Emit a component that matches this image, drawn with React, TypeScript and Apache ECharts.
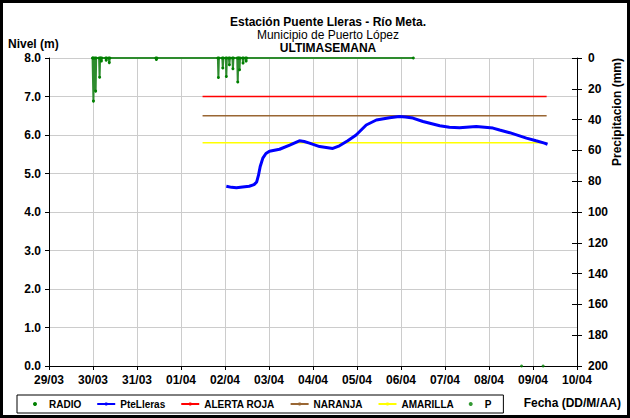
import React, { useEffect, useRef } from "react";
import * as echarts from "echarts";

// X axis: days since 29/03 00:00
const dayLabels = [
  "29/03", "30/03", "31/03", "01/04", "02/04", "03/04", "04/04",
  "05/04", "06/04", "07/04", "08/04", "09/04", "10/04",
];

// Nivel PteLleras (m): [day offset, level]
const pteLleras: [number, number][] = [
  [4.03, 4.67], [4.15, 4.64], [4.26, 4.63], [4.4, 4.65], [4.55, 4.67],
  [4.66, 4.71], [4.72, 4.78], [4.76, 4.95], [4.8, 5.18], [4.86, 5.4],
  [4.93, 5.52], [5.01, 5.58], [5.24, 5.63], [5.47, 5.74], [5.69, 5.85],
  [5.8, 5.83], [5.92, 5.79], [6.15, 5.7], [6.45, 5.65], [6.6, 5.72],
  [6.79, 5.85], [6.98, 6.0], [7.21, 6.26], [7.44, 6.39], [7.74, 6.45],
  [7.96, 6.48], [8.1, 6.47], [8.27, 6.44], [8.5, 6.35], [8.88, 6.24],
  [9.1, 6.2], [9.33, 6.19], [9.71, 6.22], [10.09, 6.18], [10.24, 6.13],
  [10.47, 6.06], [10.85, 5.92], [11.07, 5.85], [11.26, 5.79], [11.33, 5.76],
];

// RADIO precipitation (mm) events
const rainDays = [1.01, 1.06, 1.15, 1.19, 1.3, 1.37, 2.44, 3.85, 3.95, 4.03, 4.1, 4.18, 4.29, 4.33, 4.41, 4.48];
const rainMm = [28, 21.5, 12.5, 2, 1.5, 3, 1, 12.7, 6.5, 12, 4.4, 7, 15.6, 7.6, 3.3, 2];
const radioStartDay = 0.99;
const radioEndDay = 8.28;

// P series
const pDays = [10.74, 11.23];
const pValues = [0, 0];

// Threshold levels
const thresholdNames = ["ALERTA ROJA", "NARANJA", "AMARILLA"];
const thresholdLevels = [7.0, 6.5, 5.8];
const thresholdColors = ["#ff0000", "#996633", "#ffff00"];
const thresholdStartDay = 3.49;
const thresholdEndDay = 11.31;

const FONT = "'Liberation Sans', Arial, Helvetica, sans-serif";

export default function App() {
  const ref = useRef<HTMLDivElement>(null);

  useEffect(() => {
    const chart = echarts.init(ref.current!, null, { renderer: "svg" });

    const radioData: [number, number][] = [[radioStartDay, 0]];
    rainDays.forEach((d, i) => {
      radioData.push([d - 0.012, 0]);
      radioData.push([d, rainMm[i]]);
      radioData.push([d + 0.012, 0]);
    });
    radioData.push([radioEndDay, 0]);

    const thresholdSeries = thresholdNames.map((name, i) => ({
      name,
      type: "line",
      yAxisIndex: 0,
      symbol: "none",
      data: [
        [thresholdStartDay, thresholdLevels[i]],
        [thresholdEndDay, thresholdLevels[i]],
      ],
      lineStyle: { color: thresholdColors[i], width: 1.5 },
      itemStyle: { color: thresholdColors[i] },
      z: 3,
    }));

    const boldLabel = { color: "#000", fontWeight: "bold", fontSize: 12, fontFamily: FONT };

    chart.setOption({
      animation: false,
      backgroundColor: "#fff",
      grid: { left: 49, right: 53, top: 58, bottom: 52, containLabel: false },
      xAxis: {
        type: "value",
        min: 0,
        max: 12,
        interval: 1,
        axisLine: { show: true, onZero: false, lineStyle: { color: "#000", width: 1 } },
        axisTick: { show: true, length: 4, lineStyle: { color: "#000" } },
        axisLabel: {
          ...boldLabel,
          margin: 8,
          formatter: (v: number) => dayLabels[Math.round(v)] ?? "",
        },
        splitLine: { show: true, lineStyle: { color: "#cccccc", width: 1 } },
      },
      yAxis: [
        {
          type: "value",
          position: "left",
          min: 0,
          max: 8,
          interval: 1,
          axisLine: { show: true, lineStyle: { color: "#000", width: 1 } },
          axisTick: { show: true, length: 4, lineStyle: { color: "#000" } },
          axisLabel: { ...boldLabel, margin: 8, formatter: (v: number) => v.toFixed(1) },
          splitLine: { show: true, lineStyle: { color: "#cccccc", width: 1 } },
        },
        {
          type: "value",
          position: "right",
          min: 0,
          max: 200,
          interval: 20,
          inverse: true,
          axisLine: { show: true, lineStyle: { color: "#000", width: 1 } },
          axisTick: { show: true, length: 5, lineStyle: { color: "#000" } },
          axisLabel: { ...boldLabel, margin: 11 },
          splitLine: { show: false },
        },
        {
          type: "value",
          position: "right",
          min: 0,
          max: 200,
          interval: 20,
          inverse: true,
          axisLine: { show: false },
          axisTick: { show: true, inside: true, length: 5, lineStyle: { color: "#000" } },
          axisLabel: { show: false },
          splitLine: { show: false },
        },
      ],
      legend: {
        left: 17,
        top: 395,
        orient: "horizontal",
        itemWidth: 18,
        itemHeight: 4,
        itemGap: 15,
        padding: [4, 12, 4, 16],
        borderColor: "#000",
        borderWidth: 1,
        selectedMode: false,
        textStyle: { color: "#000", fontWeight: "bold", fontSize: 10, fontFamily: FONT },
        data: [
          { name: "RADIO", icon: "circle" },
          "PteLleras",
          "ALERTA ROJA",
          "NARANJA",
          "AMARILLA",
          { name: "P", icon: "circle" },
        ],
      },
      graphic: [
        {
          type: "rect",
          silent: true,
          shape: { x: 1.5, y: 1.5, width: 627, height: 415 },
          style: { fill: "none", stroke: "#000", lineWidth: 3 },
        },
        {
          type: "text",
          x: 328,
          y: 22,
          style: { text: "Estación Puente Lleras - Río Meta.", align: "center", verticalAlign: "middle", font: `bold 12px ${FONT}`, fill: "#000" },
        },
        {
          type: "text",
          x: 328,
          y: 35,
          style: { text: "Municipio de Puerto López", align: "center", verticalAlign: "middle", font: `12px ${FONT}`, fill: "#000" },
        },
        {
          type: "text",
          x: 328,
          y: 48,
          style: { text: "ULTIMASEMANA", align: "center", verticalAlign: "middle", font: `bold 12px ${FONT}`, fill: "#000" },
        },
        {
          type: "text",
          x: 8,
          y: 44,
          style: { text: "Nivel (m)", align: "left", verticalAlign: "middle", font: `bold 12px ${FONT}`, fill: "#000" },
        },
        {
          type: "text",
          x: 617,
          y: 112,
          rotation: Math.PI / 2,
          style: { text: "Precipitacion (mm)", align: "center", verticalAlign: "middle", font: `bold 12px ${FONT}`, fill: "#000" },
        },
        {
          type: "text",
          x: 621,
          y: 403,
          style: { text: "Fecha (DD/M/AA)", align: "right", verticalAlign: "middle", font: `bold 12px ${FONT}`, fill: "#000" },
        },
      ],
      series: [
        {
          name: "RADIO",
          type: "line",
          yAxisIndex: 1,
          data: radioData,
          symbol: "circle",
          symbolSize: 3,
          showSymbol: true,
          lineStyle: { color: "#2e8b2e", width: 2 },
          itemStyle: { color: "#008000" },
          z: 4,
        },
        {
          name: "PteLleras",
          type: "line",
          yAxisIndex: 0,
          data: pteLleras,
          symbol: "none",
          smooth: false,
          lineStyle: { color: "#0000ff", width: 3 },
          itemStyle: { color: "#0000ff" },
          z: 5,
        },
        ...thresholdSeries,
        {
          name: "P",
          type: "scatter",
          yAxisIndex: 0,
          data: pDays.map((d, i) => [d, pValues[i]]),
          symbol: "circle",
          symbolSize: 3,
          itemStyle: { color: "#008000" },
          z: 6,
        },
      ],
    });

    return () => chart.dispose();
  }, []);

  return (
    <div
      ref={ref}
      style={{ position: "absolute", left: 0, top: 0, width: 630, height: 418, background: "#fff" }}
    />
  );
}
